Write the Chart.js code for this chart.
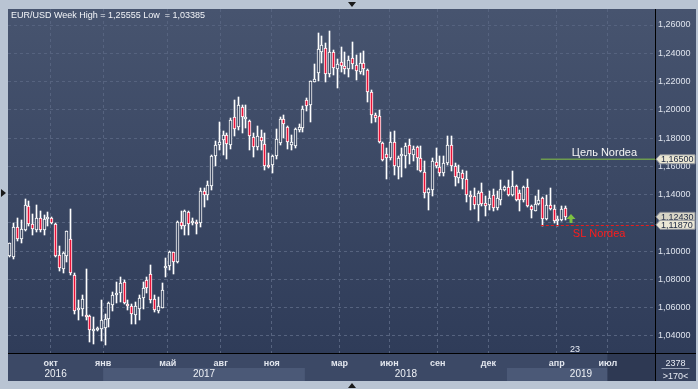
<!DOCTYPE html>
<html>
<head>
<meta charset="utf-8">
<script src="https://cdn.jsdelivr.net/npm/chart.js@4.4.1/dist/chart.umd.min.js"></script>
<style>
  html, body { margin: 0; padding: 0; background: #b9c4d3; }
  #wrap { width: 698px; height: 389px; }
</style>
</head>
<body>
<div id="wrap"><canvas id="fxChart" width="698" height="389"></canvas></div>
<script>
// weekly EUR/USD candles
const weekOpen = [
  1.0966, 1.0956, 1.1170, 1.1089, 1.1151, 1.1317, 1.1191, 1.1151, 1.1234, 1.1151,
  1.1227, 1.1234, 1.1194, 1.0973, 1.0871, 1.0966, 1.1085, 1.0835, 1.0582, 1.0594,
  1.0551, 1.0539, 1.0435, 1.0439, 1.0451, 1.0458, 1.0522, 1.0617, 1.0688, 1.0705,
  1.0781, 1.0624, 1.0615, 1.0551, 1.0594, 1.0672, 1.0795, 1.0838, 1.0665, 1.0577,
  1.0601, 1.0878, 1.0895, 1.0997, 1.0921, 1.1206, 1.1179, 1.1277, 1.1198, 1.1208,
  1.1200, 1.1424, 1.1400, 1.1464, 1.1671, 1.1753, 1.1788, 1.1824, 1.1748, 1.1948,
  1.1875, 1.2019, 1.1936, 1.1922, 1.1807, 1.1736, 1.1807, 1.1758, 1.1605, 1.1612,
  1.1671, 1.1765, 1.1934, 1.1875, 1.1748, 1.1741, 1.1854, 1.1871, 1.2071, 1.2031,
  1.2200, 1.2259, 1.2412, 1.2435, 1.2254, 1.2412, 1.2287, 1.2341, 1.2311, 1.2287,
  1.2365, 1.2318, 1.2271, 1.2334, 1.2282, 1.2129, 1.1960, 1.1953, 1.1765, 1.1687,
  1.1659, 1.1769, 1.1595, 1.1671, 1.1675, 1.1748, 1.1678, 1.1736, 1.1659, 1.1560,
  1.1412, 1.1435, 1.1631, 1.1595, 1.1553, 1.1624, 1.1753, 1.1600, 1.1518, 1.1553,
  1.1511, 1.1400, 1.1388, 1.1329, 1.1416, 1.1341, 1.1329, 1.1400, 1.1306, 1.1365,
  1.1435, 1.1454, 1.1400, 1.1464, 1.1412, 1.1360, 1.1454, 1.1318, 1.1287, 1.1334,
  1.1376, 1.1228, 1.1325, 1.1299, 1.1212, 1.1224, 1.1306
];
const weekHigh = [
  1.1060, 1.1198, 1.1234, 1.1222, 1.1372, 1.1353, 1.1262, 1.1329, 1.1281, 1.1258,
  1.1277, 1.1241, 1.1198, 1.1037, 1.0997, 1.1144, 1.1300, 1.0843, 1.0653, 1.0688,
  1.0873, 1.0546, 1.0534, 1.0463, 1.0653, 1.0558, 1.0641, 1.0712, 1.0783, 1.0819,
  1.0795, 1.0653, 1.0629, 1.0641, 1.0688, 1.0783, 1.0819, 1.0902, 1.0688, 1.0677,
  1.0776, 1.0949, 1.1004, 1.0997, 1.1210, 1.1281, 1.1289, 1.1281, 1.1234, 1.1222,
  1.1447, 1.1447, 1.1494, 1.1682, 1.1781, 1.1913, 1.1847, 1.1835, 1.1941, 1.2071,
  1.2094, 1.2035, 1.2035, 1.1929, 1.1835, 1.1882, 1.1859, 1.1835, 1.1694, 1.1682,
  1.1866, 1.1948, 1.1965, 1.1882, 1.1824, 1.1871, 1.1901, 1.2028, 1.2087, 1.2205,
  1.2325, 1.2541, 1.2522, 1.2471, 1.2556, 1.2424, 1.2358, 1.2447, 1.2412, 1.2381,
  1.2482, 1.2388, 1.2405, 1.2416, 1.2287, 1.2141, 1.1976, 1.2000, 1.1769, 1.1729,
  1.1840, 1.1847, 1.1675, 1.1729, 1.1765, 1.1795, 1.1741, 1.1746, 1.1746, 1.1635,
  1.1447, 1.1659, 1.1729, 1.1671, 1.1671, 1.1812, 1.1816, 1.1624, 1.1612, 1.1576,
  1.1565, 1.1424, 1.1447, 1.1424, 1.1482, 1.1393, 1.1424, 1.1440, 1.1424, 1.1506,
  1.1464, 1.1506, 1.1569, 1.1471, 1.1435, 1.1459, 1.1511, 1.1329, 1.1388, 1.1431,
  1.1384, 1.1400, 1.1447, 1.1329, 1.1247, 1.1318, 1.1318
];
const weekLow = [
  1.0960, 1.0945, 1.1075, 1.1056, 1.1144, 1.1175, 1.1115, 1.1139, 1.1139, 1.1115,
  1.1175, 1.1194, 1.0961, 1.0862, 1.0843, 1.0926, 1.0831, 1.0558, 1.0510, 1.0541,
  1.0510, 1.0356, 1.0344, 1.0432, 1.0368, 1.0339, 1.0463, 1.0577, 1.0634, 1.0641,
  1.0629, 1.0582, 1.0487, 1.0487, 1.0515, 1.0594, 1.0705, 1.0634, 1.0570, 1.0565,
  1.0596, 1.0814, 1.0866, 1.0838, 1.0914, 1.1156, 1.1115, 1.1115, 1.1187, 1.1120,
  1.1169, 1.1311, 1.1365, 1.1431, 1.1605, 1.1718, 1.1682, 1.1654, 1.1722, 1.1817,
  1.1859, 1.1835, 1.1868, 1.1713, 1.1664, 1.1713, 1.1718, 1.1572, 1.1588, 1.1553,
  1.1654, 1.1753, 1.1800, 1.1725, 1.1713, 1.1729, 1.1840, 1.1840, 1.1995, 1.1911,
  1.2200, 1.2205, 1.2334, 1.2200, 1.2235, 1.2247, 1.2153, 1.2271, 1.2254, 1.2235,
  1.2287, 1.2212, 1.2254, 1.2247, 1.2052, 1.1906, 1.1911, 1.1765, 1.1640, 1.1511,
  1.1647, 1.1541, 1.1511, 1.1525, 1.1588, 1.1619, 1.1635, 1.1576, 1.1558, 1.1376,
  1.1294, 1.1393, 1.1588, 1.1529, 1.1534, 1.1612, 1.1565, 1.1459, 1.1482, 1.1440,
  1.1346, 1.1294, 1.1299, 1.1212, 1.1318, 1.1252, 1.1294, 1.1282, 1.1294, 1.1329,
  1.1424, 1.1393, 1.1393, 1.1353, 1.1282, 1.1346, 1.1313, 1.1235, 1.1282, 1.1329,
  1.1181, 1.1224, 1.1289, 1.1200, 1.1181, 1.1212, 1.1224
];
const weekClose = [
  1.1056, 1.1170, 1.1085, 1.1156, 1.1329, 1.1191, 1.1156, 1.1234, 1.1151, 1.1227,
  1.1241, 1.1198, 1.0966, 1.0878, 1.0990, 1.1144, 1.0847, 1.0577, 1.0594, 1.0660,
  1.0534, 1.0444, 1.0451, 1.0454, 1.0511, 1.0522, 1.0634, 1.0688, 1.0700, 1.0776,
  1.0634, 1.0610, 1.0553, 1.0610, 1.0672, 1.0736, 1.0736, 1.0653, 1.0586, 1.0610,
  1.0724, 1.0895, 1.0997, 1.0926, 1.1206, 1.1179, 1.1281, 1.1194, 1.1208, 1.1194,
  1.1428, 1.1400, 1.1471, 1.1671, 1.1748, 1.1772, 1.1824, 1.1758, 1.1929, 1.1866,
  1.2035, 1.1948, 1.1948, 1.1817, 1.1736, 1.1817, 1.1776, 1.1605, 1.1595, 1.1671,
  1.1795, 1.1936, 1.1899, 1.1772, 1.1772, 1.1864, 1.1875, 1.2005, 1.2024, 1.2205,
  1.2216, 1.2428, 1.2459, 1.2254, 1.2407, 1.2294, 1.2322, 1.2311, 1.2287, 1.2353,
  1.2322, 1.2278, 1.2334, 1.2287, 1.2129, 1.1960, 1.1941, 1.1769, 1.1642, 1.1659,
  1.1769, 1.1605, 1.1659, 1.1687, 1.1746, 1.1689, 1.1722, 1.1659, 1.1565, 1.1412,
  1.1442, 1.1635, 1.1600, 1.1553, 1.1624, 1.1753, 1.1605, 1.1522, 1.1558, 1.1511,
  1.1400, 1.1384, 1.1329, 1.1412, 1.1336, 1.1318, 1.1376, 1.1306, 1.1376, 1.1440,
  1.1454, 1.1400, 1.1464, 1.1365, 1.1360, 1.1454, 1.1318, 1.1289, 1.1334, 1.1365,
  1.1228, 1.1329, 1.1299, 1.1212, 1.1224, 1.1299, 1.1243
];

// x axis: week slots, month ticks (in week-index units) and year bands
const monthTickPos = [10.7, 24.5, 41.5, 55.4, 68.8, 86.6, 99.7, 112.4, 125.7, 143.7, 157.1];
const monthTickLabels = ['окт', 'янв', 'май', 'авг', 'ноя', 'мар', 'июн', 'сен', 'дек', 'апр', 'июл'];
const yearStart = [-0.5, 24.5, 77.5, 130.6];
const yearLabels = ['2016', '2017', '2018', '2019'];
const priceTicks = [1.04, 1.06, 1.08, 1.10, 1.12, 1.14, 1.16, 1.18, 1.20, 1.22, 1.24, 1.26];

// Nordea levels
const targetLevel = 1.165;
const stopLevel = 1.1187;
const lastPrice = 1.1243;
const levelFrom = 139.5;
const signalIdx = 147.4, signalPrice = 1.1263;

const slots = 170;
const xMax = slots - 0.5;
const fontFamily = '"Liberation Sans", Arial, sans-serif';
Chart.defaults.font.family = fontFamily;

const fmt = v => v.toFixed(5).replace('.', ',');
const upFill = '#3a4762';
const downFill = '#ea1238';

const yearEnds = yearStart.slice(1).concat([xMax]);
const yearCenters = yearStart.map((s, i) => (s + yearEnds[i]) / 2);

// snap candle rectangles to whole pixels so they stay crisp
const pixelSnap = {
  id: 'pixelSnap',
  afterDatasetsUpdate(chart) {
    chart.data.datasets.forEach((ds, di) => {
      chart.getDatasetMeta(di).data.forEach(el => {
        el.x = Math.floor(el.x) + 0.5;
        el.y = Math.round(el.y);
        el.base = Math.round(el.base);
      });
    });
  }
};

const chrome = {
  id: 'chrome',
  beforeDraw(chart) {
    const { ctx, chartArea: a } = chart;
    const x = chart.scales.x;
    const W = chart.width;
    const bottom = a.bottom + 28;
    ctx.save();
    ctx.fillStyle = '#b9c4d3';
    ctx.fillRect(0, 0, W, chart.height);
    const g = ctx.createLinearGradient(0, a.top, 0, a.bottom);
    g.addColorStop(0, '#47546f');
    g.addColorStop(1, '#2f3c59');
    ctx.fillStyle = g;
    ctx.fillRect(a.left, a.top, W - 2 - a.left, bottom - a.top);
    ctx.fillStyle = '#3c4966';
    ctx.fillRect(a.left, a.bottom, a.right - a.left, 28);
    ctx.fillStyle = '#4b5977';
    yearStart.forEach((s, i) => {
      if (i % 2 === 1) {
        const x0 = Math.max(a.left, x.getPixelForValue(s));
        const x1 = x.getPixelForValue(yearEnds[i]);
        ctx.fillRect(x0, a.bottom + 15, x1 - x0, 13);
      }
    });
    const xf = x.getPixelForValue(157);
    ctx.fillStyle = '#2e3953';
    ctx.fillRect(xf, a.bottom, a.right - xf, 28);
    ctx.fillStyle = '#34405c';
    ctx.fillRect(a.right, a.bottom, W - 2 - a.right, 28);
    ctx.restore();
  },
  afterDraw(chart) {
    const { ctx, chartArea: a } = chart;
    const x = chart.scales.x, y = chart.scales.y;
    const W = chart.width;
    ctx.save();

    // header
    ctx.font = '9px ' + fontFamily;
    ctx.fillStyle = '#f2f4f8';
    ctx.textBaseline = 'alphabetic';
    ctx.textAlign = 'left';
    ctx.fillText('EUR/USD Week High = 1,25555 Low  = 1,03385', a.left + 3, 18);

    // target line
    const xs = x.getPixelForValue(levelFrom);
    const yt = y.getPixelForValue(targetLevel);
    ctx.strokeStyle = '#6d9b4f';
    ctx.lineWidth = 1.5;
    ctx.beginPath();
    ctx.moveTo(xs, yt);
    ctx.lineTo(a.right, yt);
    ctx.stroke();
    ctx.font = '11px ' + fontFamily;
    ctx.fillStyle = '#f4f4f4';
    ctx.textAlign = 'right';
    ctx.fillText('Цель Nordea', a.right - 18, yt - 3);

    // stop line
    const ysl = y.getPixelForValue(stopLevel);
    ctx.strokeStyle = '#e81c1c';
    ctx.lineWidth = 1;
    ctx.setLineDash([3, 2]);
    ctx.beginPath();
    ctx.moveTo(xs, Math.round(ysl) + 0.5);
    ctx.lineTo(a.right, Math.round(ysl) + 0.5);
    ctx.stroke();
    ctx.setLineDash([]);
    ctx.fillStyle = '#ff1c1c';
    ctx.textAlign = 'left';
    ctx.fillText('SL Nordea', xs + 32, ysl + 12);

    // signal arrow
    const ax = Math.round(x.getPixelForValue(signalIdx));
    const ay = Math.round(y.getPixelForValue(signalPrice));
    ctx.fillStyle = '#7cc142';
    ctx.beginPath();
    ctx.moveTo(ax, ay);
    ctx.lineTo(ax + 4.5, ay + 5);
    ctx.lineTo(ax + 1.5, ay + 5);
    ctx.lineTo(ax + 1.5, ay + 9);
    ctx.lineTo(ax - 1.5, ay + 9);
    ctx.lineTo(ax - 1.5, ay + 5);
    ctx.lineTo(ax - 4.5, ay + 5);
    ctx.closePath();
    ctx.fill();

    // week number
    ctx.font = '9px ' + fontFamily;
    ctx.fillStyle = '#e8ecf4';
    ctx.textAlign = 'center';
    ctx.fillText('23', x.getPixelForValue(148.5), a.bottom - 1);

    // separators
    ctx.strokeStyle = '#000000';
    ctx.lineWidth = 1;
    ctx.beginPath();
    ctx.moveTo(a.right + 0.5, a.top);
    ctx.lineTo(a.right + 0.5, a.bottom + 28);
    ctx.moveTo(a.left, a.bottom + 0.5);
    ctx.lineTo(W - 2, a.bottom + 0.5);
    ctx.stroke();

    // corner box
    const cx = (a.right + W - 2) / 2;
    ctx.fillStyle = '#e8ecf4';
    ctx.fillText('2378', cx, a.bottom + 13);
    ctx.fillText('>170<', cx, a.bottom + 26);
    ctx.strokeStyle = '#9aa4b8';
    ctx.beginPath();
    ctx.moveTo(cx - 14, a.bottom + 15.5);
    ctx.lineTo(cx + 14, a.bottom + 15.5);
    ctx.stroke();

    // price tags
    const tag = (v, bg) => {
      const ty = y.getPixelForValue(v);
      const l = a.right + 1;
      ctx.beginPath();
      ctx.moveTo(l, ty);
      ctx.lineTo(l + 4, ty - 4.5);
      ctx.lineTo(W - 3, ty - 4.5);
      ctx.lineTo(W - 3, ty + 4.5);
      ctx.lineTo(l + 4, ty + 4.5);
      ctx.closePath();
      ctx.fillStyle = bg;
      ctx.fill();
      ctx.strokeStyle = '#8c909a';
      ctx.stroke();
      ctx.fillStyle = '#1c2741';
      ctx.font = '9px ' + fontFamily;
      ctx.textAlign = 'left';
      ctx.textBaseline = 'middle';
      ctx.fillText(fmt(v), l + 5, ty + 0.5);
      ctx.textBaseline = 'alphabetic';
    };
    tag(targetLevel, '#ebe7d3');
    tag(lastPrice, '#d8d5c6');
    tag(stopLevel, '#ebe7d6');

    // frame markers
    ctx.fillStyle = '#1a1a1a';
    ctx.beginPath();
    ctx.moveTo(348, 2); ctx.lineTo(356, 2); ctx.lineTo(352, 7); ctx.closePath();
    ctx.moveTo(348, 388); ctx.lineTo(356, 388); ctx.lineTo(352, 383); ctx.closePath();
    ctx.moveTo(1, 189); ctx.lineTo(1, 197); ctx.lineTo(6, 193); ctx.closePath();
    ctx.fill();
    ctx.restore();
  }
};

const wickData = weekHigh.map((h, i) => ({ x: i, y: [weekLow[i], h] }));
const bodyData = weekOpen.map((o, i) => ({ x: i, y: [o, weekClose[i]] }));
const bodyColors = weekOpen.map((o, i) => (weekClose[i] >= o ? upFill : downFill));

new Chart(document.getElementById('fxChart'), {
  type: 'bar',
  data: {
    datasets: [
      {
        label: 'body',
        data: bodyData,
        backgroundColor: bodyColors,
        borderColor: '#ffffff',
        borderWidth: 1,
        borderSkipped: false,
        barThickness: 3,
        minBarLength: 2,
        grouped: false
      },
      {
        label: 'wick',
        data: wickData,
        backgroundColor: '#ffffff',
        borderWidth: 0,
        barThickness: 1,
        grouped: false
      }
    ]
  },
  options: {
    responsive: false,
    animation: false,
    layout: { padding: { left: 8, top: 9, right: 2, bottom: 8 } },
    plugins: { legend: { display: false }, tooltip: { enabled: false } },
    scales: {
      x: {
        type: 'linear',
        position: 'bottom',
        offset: false,
        min: -0.5,
        max: xMax,
        afterBuildTicks: ax => { ax.ticks = monthTickPos.map(v => ({ value: v })); },
        afterFit: ax => { ax.height = 15; },
        ticks: {
          autoSkip: false,
          maxRotation: 0,
          padding: 5,
          color: '#e2e6ee',
          font: { size: 9, weight: 'bold' },
          callback: (v, i) => monthTickLabels[i]
        },
        grid: { color: '#56637f', drawTicks: false, offset: false },
        border: { display: false, dash: [3, 3] }
      },
      x2: {
        type: 'linear',
        position: 'bottom',
        offset: false,
        min: -0.5,
        max: xMax,
        afterBuildTicks: ax => { ax.ticks = yearCenters.map(v => ({ value: v })); },
        afterFit: ax => { ax.height = 13; },
        ticks: {
          autoSkip: false,
          maxRotation: 0,
          padding: 0,
          color: '#eef1f6',
          font: { size: 10 },
          callback: (v, i) => yearLabels[i]
        },
        grid: { display: false, drawTicks: false, offset: false },
        border: { display: false }
      },
      y: {
        position: 'right',
        min: 1.02797,
        max: 1.27132,
        afterBuildTicks: ax => { ax.ticks = priceTicks.map(v => ({ value: v })); },
        afterFit: ax => { ax.width = 41; },
        ticks: {
          padding: 3,
          color: '#dfe4ee',
          font: { size: 9 },
          callback: v => fmt(v)
        },
        grid: { color: '#56637f', drawTicks: false },
        border: { display: false, dash: [3, 3] }
      }
    }
  },
  plugins: [pixelSnap, chrome]
});
</script>
</body>
</html>
